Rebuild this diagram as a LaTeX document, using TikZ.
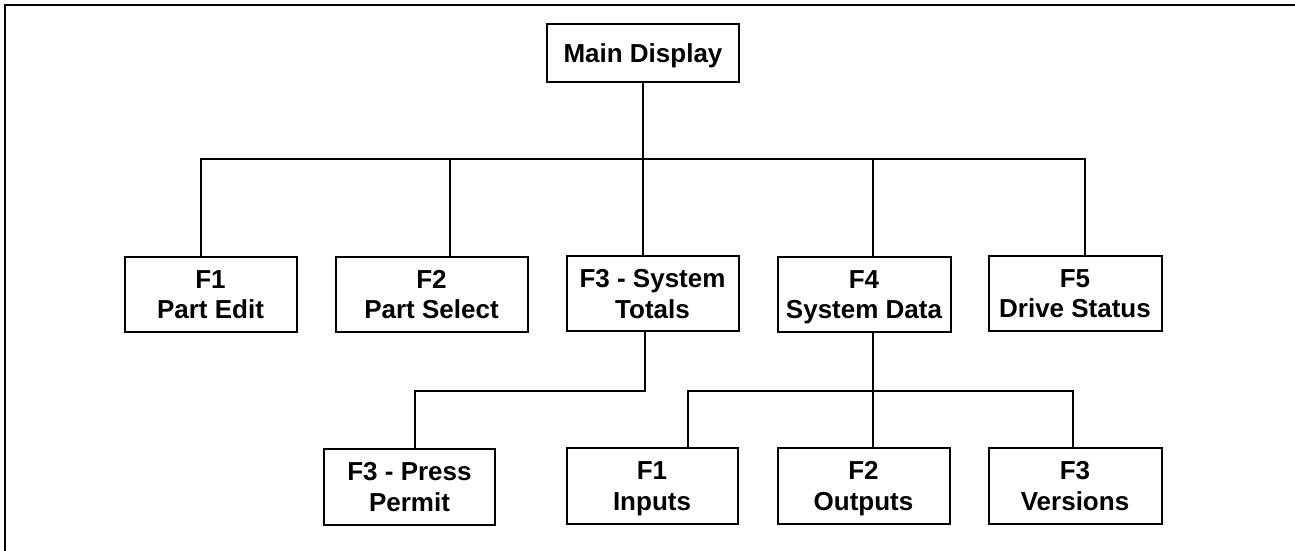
\documentclass[tikz,border=0pt]{standalone}
\usepackage{fontspec}
\setmainfont{Liberation Sans}
\newcommand\lnstrut{\rule[-6pt]{0pt}{30.5pt}}
\begin{document}
\begin{tikzpicture}[x=1pt,y=-1pt,
  box/.style={draw, line width=2pt, rectangle, inner sep=0pt, align=center,
    font=\fontsize{26}{30.5}\selectfont\bfseries},
  link/.style={line width=2.5pt}]
\useasboundingbox (0,0) rectangle (1295,551);
\draw[line width=2.5pt] (5,560) -- (5,5) -- (1296,5) -- (1296,560);

\node[box, minimum width=192pt, minimum height=57pt] (main) at (643,53) {Main Display\lnstrut};

\node[box, minimum width=172pt, minimum height=75pt] (F1) at (210.5,294) {F1\lnstrut\\Part Edit\lnstrut};
\node[box, minimum width=192pt, minimum height=75pt] (F2) at (431.5,294) {F2\lnstrut\\Part Select\lnstrut};
\node[box, minimum width=172pt, minimum height=75pt] (F3) at (652.5,293.5) {F3 - System\lnstrut\\Totals\lnstrut};
\node[box, minimum width=173pt, minimum height=75pt] (F4) at (864,294) {F4\lnstrut\\System Data\lnstrut};
\node[box, minimum width=173pt, minimum height=75pt] (F5) at (1075,293) {F5\lnstrut\\Drive Status\lnstrut};

\node[box, minimum width=171pt, minimum height=76pt] (press) at (409.5,486.5) {F3 - Press\lnstrut\\Permit\lnstrut};
\node[box, minimum width=171pt, minimum height=76pt] (inputs) at (652,485.5) {F1\lnstrut\\Inputs\lnstrut};
\node[box, minimum width=172pt, minimum height=76pt] (outputs) at (863.5,485.5) {F2\lnstrut\\Outputs\lnstrut};
\node[box, minimum width=173pt, minimum height=76pt] (versions) at (1075,485.5) {F3\lnstrut\\Versions\lnstrut};

% upper tree
\coordinate (bar) at (643,159);
\coordinate (t1) at (201,159);
\coordinate (t2) at (450,159);
\coordinate (t4) at (873,159);
\coordinate (t5) at (1085,159);
\draw[link] (main.south) -- (bar);
\draw[link] (t1 |- F1.north) -- (t1) -- (t5) -- (t5 |- F5.north);
\draw[link] (t2) -- (t2 |- F2.north);
\draw[link] (bar) -- (bar |- F3.north);
\draw[link] (t4) -- (t4 |- F4.north);

% lower tree
\coordinate (u3) at (645,391);
\coordinate (up) at (415,391);
\draw[link] (u3 |- F3.south) -- (u3) -- (up) -- (up |- press.north);
\coordinate (u4) at (873,391);
\coordinate (ua) at (688,391);
\coordinate (ub) at (1073,391);
\draw[link] (u4 |- F4.south) -- (u4 |- outputs.north);
\draw[link] (ua |- inputs.north) -- (ua) -- (ub) -- (ub |- versions.north);
\end{tikzpicture}
\end{document}
